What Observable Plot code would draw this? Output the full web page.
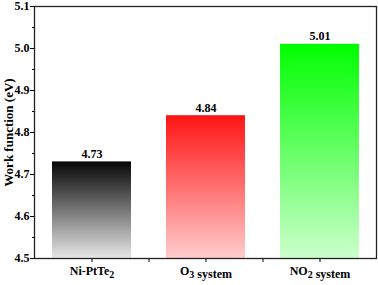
<!DOCTYPE html>
<html><head><meta charset="utf-8">
<script src="https://cdn.jsdelivr.net/npm/d3@7"></script>
<script src="https://cdn.jsdelivr.net/npm/@observablehq/plot@0.6"></script>
<style>body{margin:0;background:#fff;} svg{font-family:"Liberation Serif","Times New Roman",serif;}</style>
</head><body><div id="chart"></div>
<script>
const categories = ["Ni-PtTe2", "O3 system", "NO2 system"];
const values = [4.73, 4.84, 5.01];
const labels = ["4.73", "4.84", "5.01"];
const gradIds = ["gBlack", "gRed", "gGreen"];
const gradTop = ["#050505", "#ff1414", "#00ff00"];
const gradBottom = ["#e6e6e6", "#ffcccc", "#ccffcc"];
const yTicks = [4.5, 4.6, 4.7, 4.8, 4.9, 5.0, 5.1];
const yMinor = [4.55, 4.65, 4.75, 4.85, 4.95, 5.05];

const data = categories.map((c, i) => ({cat: c, v: values[i], label: labels[i], fill: `url(#${gradIds[i]})`}));

const chart = Plot.plot({
  width: 378, height: 285,
  marginLeft: 34, marginRight: 2, marginTop: 6, marginBottom: 27,
  style: {fontFamily: "'Liberation Serif', 'Times New Roman', serif", fontSize: "12px", fontWeight: "bold", color: "#000"},
  x: {domain: categories, paddingInner: 0.31, paddingOuter: 0.155, label: null},
  y: {domain: [4.5, 5.1], label: null},
  color: {type: "identity"},
  marks: [
    Plot.barY(data, {x: "cat", y1: 4.5, y2: "v", fill: "fill"}),
    Plot.text(data, {x: "cat", y: "v", text: "label", dy: -8, fontSize: 12, fontWeight: "bold"}),
    Plot.axisY({ticks: yTicks, tickFormat: d3.format(".1f"), tickSize: 4, tickPadding: 1, label: null, fontSize: 12, fontWeight: "bold"}),
    Plot.axisY({ticks: yMinor, tickSize: 2, text: null, label: null}),
    Plot.axisX({tickSize: 4, tickPadding: 4, label: null, fontSize: 12, fontWeight: "bold"}),
    Plot.axisX({ticks: categories.slice(1), tickSize: 4, text: null, label: null, dx: -57}),
    Plot.text(["Work function (eV)"], {frameAnchor: "left", y: [4.8], dx: -26, rotate: -90, textAnchor: "middle", fontSize: 13, fontWeight: "bold"}),
    Plot.frame({stroke: "#222", strokeWidth: 1.3})
  ]
});

// gradients
const svg = d3.select(chart);
const defs = svg.insert("defs", ":first-child");
gradIds.forEach((id, i) => {
  const g = defs.append("linearGradient").attr("id", id).attr("x1", 0).attr("y1", 0).attr("x2", 0).attr("y2", 1);
  g.append("stop").attr("offset", "0%").attr("stop-color", gradTop[i]);
  g.append("stop").attr("offset", "100%").attr("stop-color", gradBottom[i]);
});

// subscripts for x tick labels
svg.selectAll("g[aria-label='x-axis tick label'] text").each(function() {
  const t = d3.select(this);
  const s = t.text();
  if (!s) return;
  t.text(null);
  const parts = s.split(/(\d)/);
  parts.forEach(p => {
    if (!p) return;
    if (/\d/.test(p)) {
      t.append("tspan").attr("dy", "0.3em").attr("font-size", "10px").text(p);
      t.append("tspan").attr("dy", "-0.3em").text("");
    } else {
      t.append("tspan").text(p);
    }
  });
});

document.getElementById("chart").append(chart);
</script></body></html>
